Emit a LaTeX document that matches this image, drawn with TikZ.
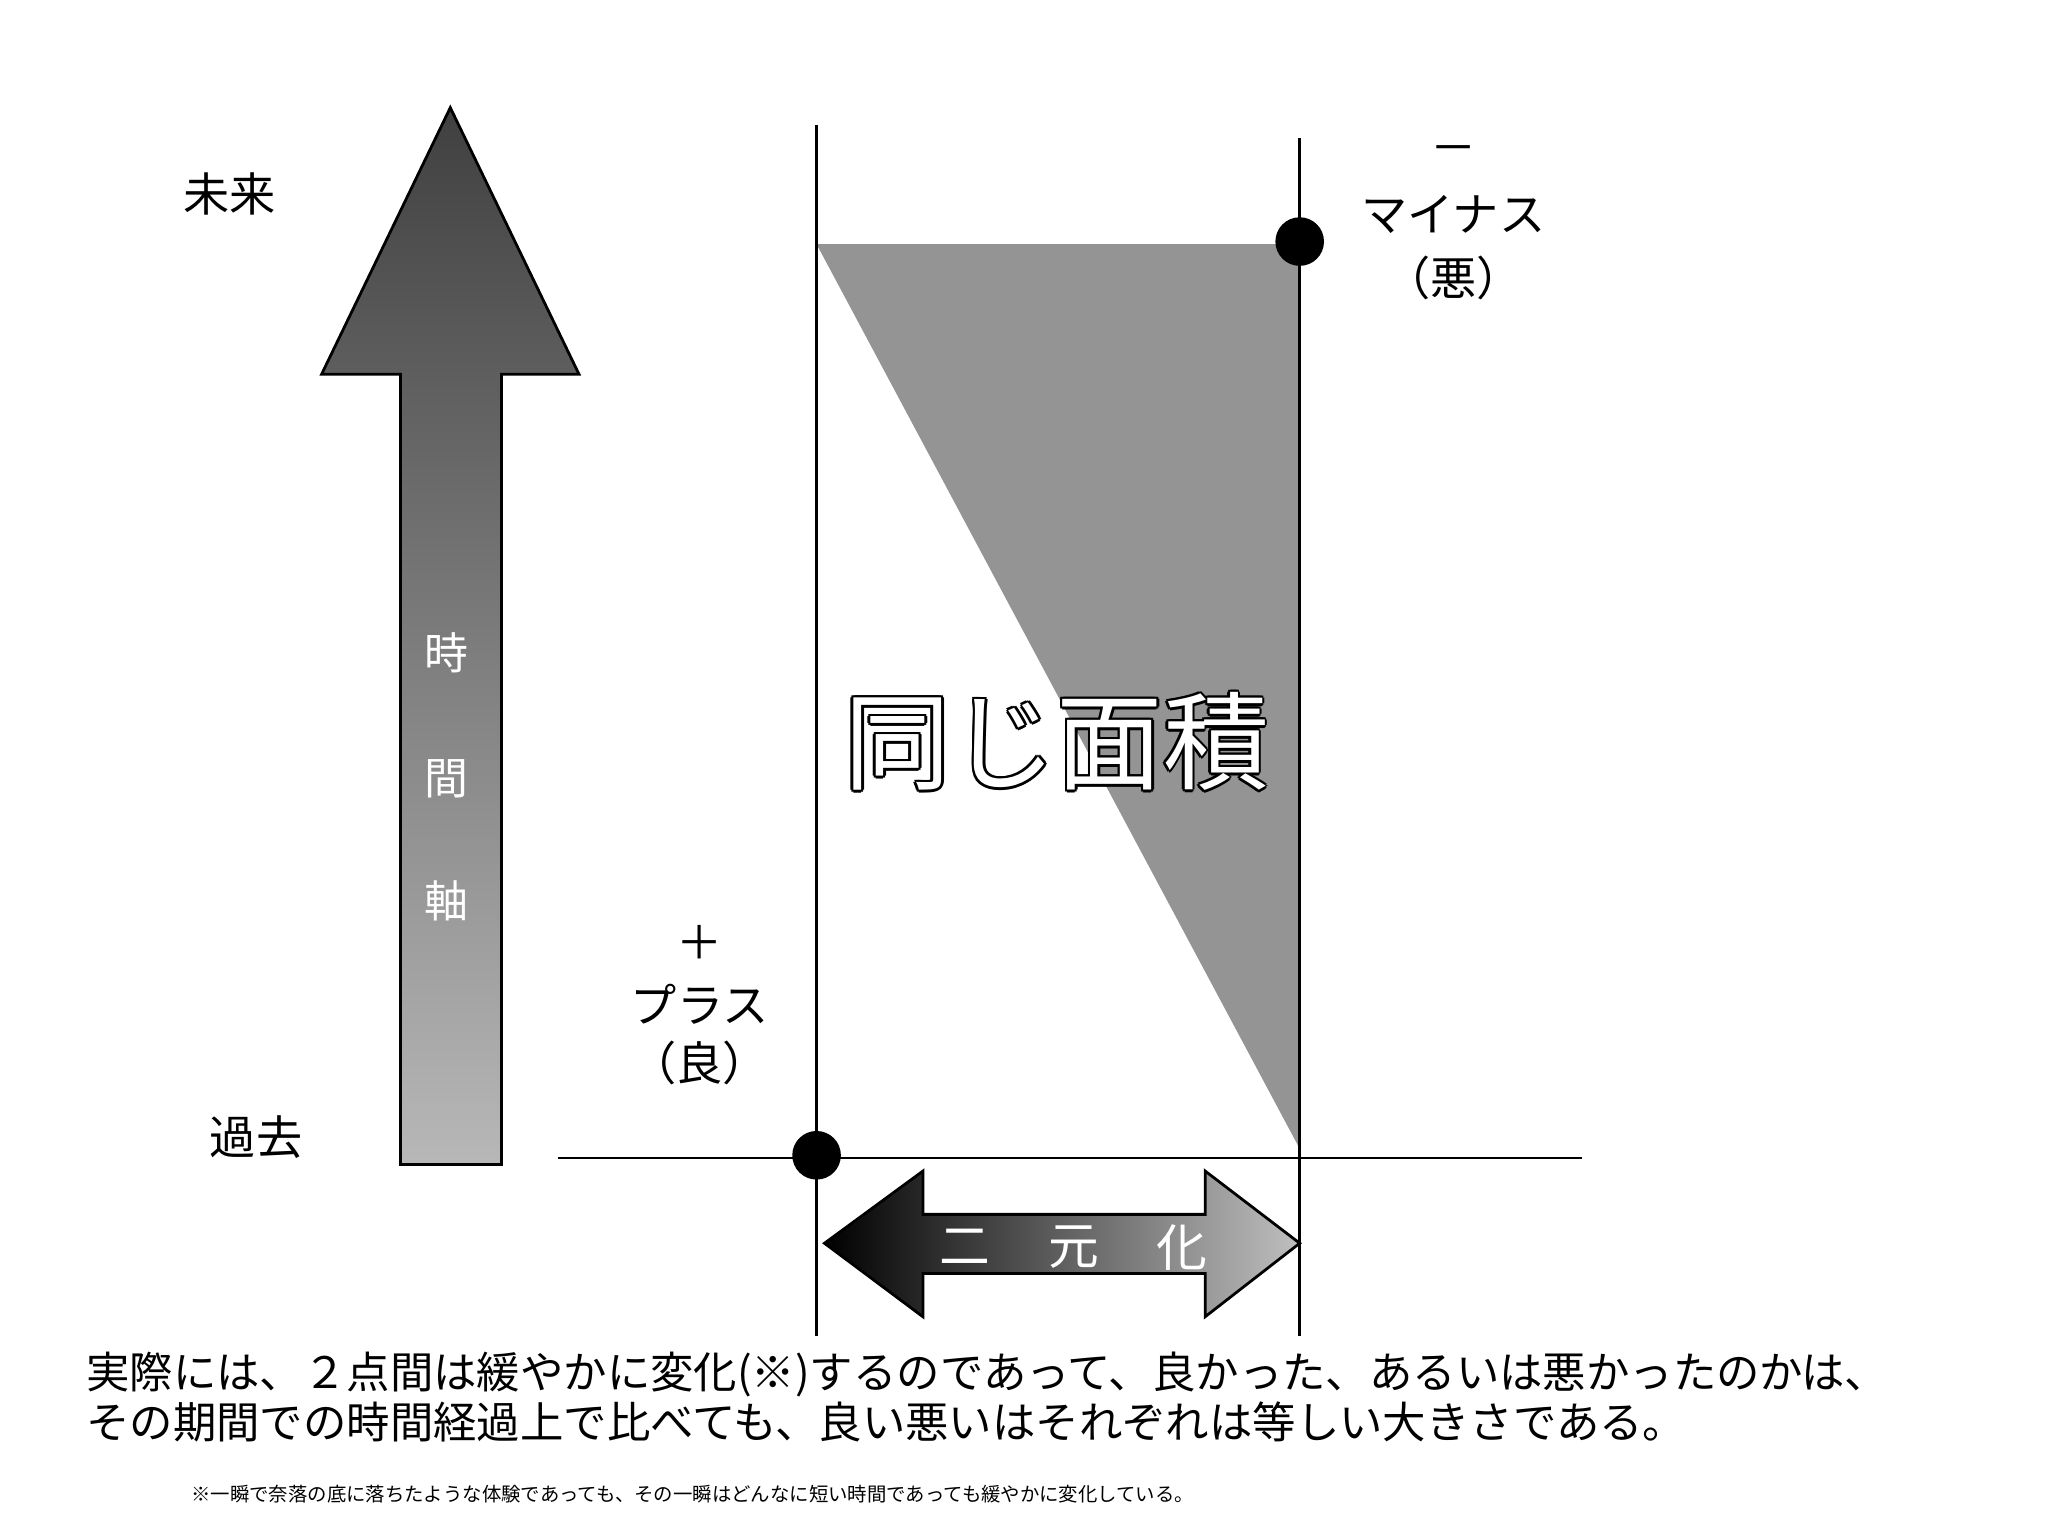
\documentclass[tikz,border=0pt]{standalone}
\usepackage{fontspec}
\setmainfont{Noto Sans CJK JP}
\newfontfamily\jp{Noto Sans CJK JP}
\begin{document}
\begin{tikzpicture}[x=0.01cm,y=-0.01cm,
  lbl/.style={font=\jp\fontsize{10}{12}\selectfont,inner sep=0},
  wt/.style={font=\jp\fontsize{9.5}{11}\selectfont,text=white,inner sep=0},
  ln/.style={line width=0.6pt},
  dot/.style={circle,fill=black,minimum size=0.37cm,inner sep=0}]
\useasboundingbox (0,0) rectangle (1560,1170);
\fill[white] (0,0) rectangle (1560,1170);
% time arrow
\shade[top color=black!75,bottom color=black!28,draw=black,line width=0.6pt]
 (343,82) -- (441,285) -- (382,285) -- (382,887) -- (305,887) -- (305,285) -- (245,285) -- cycle;
\node[wt] (t1) at (340,497) {時};
\node[wt] (t2) at (340,593) {間};
\node[wt] (t3) at (340,686) {軸};
\node[lbl] (fut) at (175,148) {未来};
\node[lbl] (past) at (195,866) {過去};
% triangle
\fill[black!42] (622,186) -- (990,186) -- (990,875) -- cycle;
% lines
\coordinate (v1t) at (622,95); \coordinate (v1b) at (622,1018);
\coordinate (v2t) at (990,105); \coordinate (v2b) at (990,1018);
\coordinate (hl) at (425,882); \coordinate (hr) at (1205,882);
\draw[ln] (v1t) -- (v1b); \draw[ln] (v2t) -- (v2b); \draw[ln] (hl) -- (hr);
\node[dot] (d1) at (990,184) {};
\node[dot] (d2) at (622,880) {};
\node[lbl] (m1) at (1107,118) {－};
\node[lbl] (m2) at (1107,163) {マイナス};
\node[lbl] (m3) at (1107,212) {（悪）};
\node[lbl] (p1) at (533,718) {＋};
\node[lbl] (p2) at (533,765) {プラス};
\node[lbl] (p3) at (533,810) {（良）};
% outlined text
\foreach \dx/\dy in {-2/0,2/0,0/-2,0/2,-1.5/-1.5,1.5/1.5,-1.5/1.5,1.5/-1.5}
  \node[font=\jp\fontsize{23}{26}\selectfont,inner sep=0] at (805+\dx,565+\dy) {同じ面積};
\node[font=\jp\fontsize{23}{26}\selectfont,inner sep=0,text=white] (same) at (805,565) {同じ面積};
% double arrow
\shade[left color=black,right color=black!25,draw=black,line width=0.6pt]
 (628,947) -- (703,892) -- (703,925) -- (918,925) -- (918,892) -- (990,947) -- (918,1003) -- (918,970) -- (703,970) -- (703,1003) -- cycle;
\node[wt,font=\jp\fontsize{11}{12}\selectfont] (n1) at (735,950) {二};
\node[wt,font=\jp\fontsize{11}{12}\selectfont] (n2) at (818,950) {元};
\node[wt,font=\jp\fontsize{11}{12}\selectfont] (n3) at (900,950) {化};
% bottom text
\node[anchor=west,inner sep=0,font=\jp\fontsize{9.4}{11}\selectfont] (b1) at (65,1047) {実際には、２点間は緩やかに変化(※)するのであって、良かった、あるいは悪かったのかは、};
\node[anchor=west,inner sep=0,font=\jp\fontsize{9.4}{11}\selectfont] (b2) at (65,1083) {その期間での時間経過上で比べても、良い悪いはそれぞれは等しい大きさである。};
\node[anchor=west,inner sep=0,font=\jp\fontsize{4.2}{5}\selectfont] (b3) at (145,1138) {※一瞬で奈落の底に落ちたような体験であっても、その一瞬はどんなに短い時間であっても緩やかに変化している。};
\end{tikzpicture}
\end{document}
